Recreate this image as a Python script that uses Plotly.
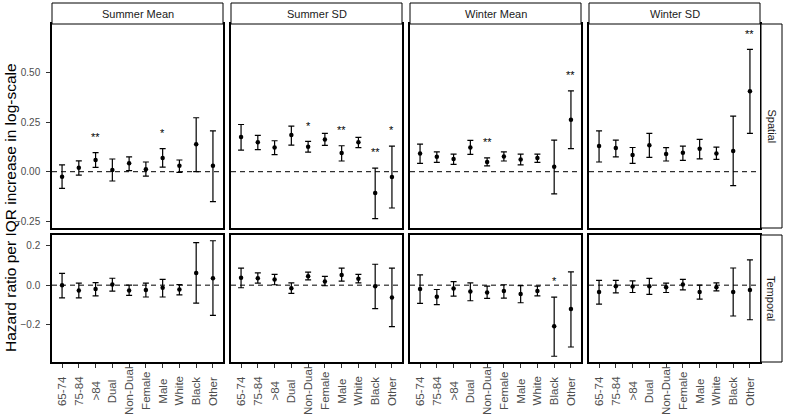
import plotly.graph_objects as go
from plotly.subplots import make_subplots

categories = ["65-74", "75-84", ">84", "Dual", "Non-Dual", "Female", "Male", "White", "Black", "Other"]
panel_titles = ["Summer Mean", "Summer SD", "Winter Mean", "Winter SD"]
row_titles = ["Spatial", "Temporal"]

# ---- Spatial row ----
sm_sp_est = [-0.025, 0.020, 0.059, 0.008, 0.042, 0.012, 0.069, 0.030, 0.139, 0.030]
sm_sp_lo = [-0.084, -0.017, 0.022, -0.047, 0.005, -0.022, 0.023, -0.003, 0.000, -0.151]
sm_sp_hi = [0.034, 0.055, 0.096, 0.064, 0.075, 0.049, 0.116, 0.059, 0.272, 0.206]
sm_sp_sig = ["", "", "**", "", "", "", "*", "", "", ""]

ss_sp_est = [0.175, 0.148, 0.122, 0.185, 0.126, 0.163, 0.094, 0.148, -0.107, -0.027]
ss_sp_lo = [0.109, 0.111, 0.086, 0.134, 0.099, 0.133, 0.054, 0.121, -0.237, -0.183]
ss_sp_hi = [0.238, 0.183, 0.156, 0.230, 0.153, 0.193, 0.131, 0.173, 0.018, 0.129]
ss_sp_sig = ["", "", "", "", "*", "", "**", "", "**", "*"]

wm_sp_est = [0.092, 0.075, 0.064, 0.122, 0.049, 0.077, 0.062, 0.069, 0.025, 0.262]
wm_sp_lo = [0.042, 0.047, 0.037, 0.087, 0.029, 0.054, 0.034, 0.047, -0.112, 0.116]
wm_sp_hi = [0.139, 0.100, 0.089, 0.158, 0.070, 0.100, 0.089, 0.089, 0.159, 0.408]
wm_sp_sig = ["", "", "", "", "**", "", "", "", "", "**"]

ws_sp_est = [0.129, 0.119, 0.084, 0.134, 0.089, 0.096, 0.116, 0.092, 0.104, 0.406]
ws_sp_lo = [0.049, 0.075, 0.042, 0.072, 0.054, 0.057, 0.065, 0.062, -0.070, 0.193]
ws_sp_hi = [0.206, 0.159, 0.122, 0.193, 0.121, 0.129, 0.163, 0.124, 0.280, 0.617]
ws_sp_sig = ["", "", "", "", "", "", "", "", "", "**"]

# ---- Temporal row ----
sm_tp_est = [0.000, -0.027, -0.020, 0.003, -0.027, -0.024, -0.013, -0.022, 0.062, 0.035]
sm_tp_lo = [-0.064, -0.064, -0.054, -0.030, -0.052, -0.060, -0.060, -0.049, -0.091, -0.153]
sm_tp_hi = [0.060, 0.010, 0.013, 0.035, 0.000, 0.010, 0.029, 0.003, 0.215, 0.225]
sm_tp_sig = ["", "", "", "", "", "", "", "", "", ""]

ss_tp_est = [0.037, 0.035, 0.029, -0.015, 0.045, 0.018, 0.052, 0.032, -0.005, -0.062]
ss_tp_lo = [-0.013, 0.010, 0.002, -0.042, 0.027, -0.003, 0.020, 0.012, -0.119, -0.210]
ss_tp_hi = [0.086, 0.062, 0.055, 0.012, 0.066, 0.045, 0.086, 0.055, 0.106, 0.086]
ss_tp_sig = ["", "", "", "", "", "", "", "", "", ""]

wm_tp_est = [-0.020, -0.059, -0.017, -0.032, -0.037, -0.029, -0.045, -0.029, -0.208, -0.121]
wm_tp_lo = [-0.092, -0.099, -0.055, -0.079, -0.067, -0.066, -0.089, -0.054, -0.360, -0.313]
wm_tp_hi = [0.052, -0.022, 0.018, 0.012, -0.005, 0.002, -0.002, -0.005, -0.061, 0.067]
wm_tp_sig = ["", "", "", "", "", "", "", "", "*", ""]

ws_tp_est = [-0.035, -0.005, -0.007, -0.005, -0.010, 0.003, -0.034, -0.010, -0.034, -0.025]
ws_tp_lo = [-0.096, -0.039, -0.037, -0.047, -0.037, -0.024, -0.071, -0.029, -0.156, -0.175]
ws_tp_hi = [0.024, 0.024, 0.022, 0.034, 0.010, 0.029, 0.000, 0.012, 0.087, 0.128]
ws_tp_sig = ["", "", "", "", "", "", "", "", "", ""]

spatial_ticks = [-0.25, 0.0, 0.25, 0.5]
temporal_ticks = [-0.2, 0.0, 0.2]
y_title = "Hazard ratio per IQR increase in log-scale"

grid = [
    [(sm_sp_est, sm_sp_lo, sm_sp_hi, sm_sp_sig), (ss_sp_est, ss_sp_lo, ss_sp_hi, ss_sp_sig),
     (wm_sp_est, wm_sp_lo, wm_sp_hi, wm_sp_sig), (ws_sp_est, ws_sp_lo, ws_sp_hi, ws_sp_sig)],
    [(sm_tp_est, sm_tp_lo, sm_tp_hi, sm_tp_sig), (ss_tp_est, ss_tp_lo, ss_tp_hi, ss_tp_sig),
     (wm_tp_est, wm_tp_lo, wm_tp_hi, wm_tp_sig), (ws_tp_est, ws_tp_lo, ws_tp_hi, ws_tp_sig)],
]

W, H = 786, 416
FONT = "Liberation Sans, Arial, sans-serif"
col_px = [(52, 223), (231, 402), (410, 581), (589, 760)]
row_px = [(24, 228), (235, 362)]
row_ranges = [[-0.284, 0.745], [-0.389, 0.254]]
star_offset = 0.08

fig = make_subplots(rows=2, cols=4)

for r in range(2):
    for c in range(4):
        est, lo, hi, sig = grid[r][c]
        up = [h - e for h, e in zip(hi, est)]
        dn = [e - l for e, l in zip(est, lo)]
        fig.add_trace(go.Scatter(
            x=categories, y=est, mode="markers",
            marker=dict(color="black", size=4.5),
            error_y=dict(type="data", symmetric=False, array=up, arrayminus=dn,
                         color="black", thickness=1.2, width=3),
            showlegend=False, hoverinfo="skip"), row=r + 1, col=c + 1)
        idx = r * 4 + c + 1
        xa = "xaxis" if idx == 1 else f"xaxis{idx}"
        ya = "yaxis" if idx == 1 else f"yaxis{idx}"
        xref = "x" if idx == 1 else f"x{idx}"
        yref = "y" if idx == 1 else f"y{idx}"
        # significance stars
        for cat, h, s in zip(categories, hi, sig):
            if s:
                fig.add_annotation(x=cat, y=h + star_offset, xref=xref, yref=yref,
                                   text=s, showarrow=False, xanchor="center", yanchor="middle",
                                   font=dict(family=FONT, size=11, color="black"))
        x0, x1 = col_px[c]
        y0, y1 = row_px[r]
        fig.layout[xa].update(
            domain=[x0 / W, x1 / W], range=[-0.6, 9.6], type="category",
            categoryorder="array", categoryarray=categories,
            showgrid=False, zeroline=False, showticklabels=False,
            ticks="outside" if r == 1 else "", ticklen=4, tickwidth=1, tickcolor="#333333",
            showline=True, linecolor="black", linewidth=1.5, mirror=True)
        ticks = spatial_ticks if r == 0 else temporal_ticks
        fig.layout[ya].update(
            domain=[1 - y1 / H, 1 - y0 / H], range=row_ranges[r],
            showgrid=False, zeroline=False,
            tickvals=ticks, tickformat=".2f" if r == 0 else ".1f",
            showticklabels=(c == 0), ticks="outside" if c == 0 else "",
            ticklen=4, tickwidth=1, tickcolor="#333333", ticklabelstandoff=4,
            tickfont=dict(family=FONT, size=10, color="#4d4d4d"),
            showline=True, linecolor="black", linewidth=1.5, mirror=True)
        # dashed zero reference line
        fig.add_shape(type="line", xref=f"{xref} domain", yref=yref,
                      x0=0, x1=1, y0=0, y1=0, layer="below",
                      line=dict(color="black", width=1, dash="5px,4px"))
        # x tick labels (centred, rotated) on bottom row
        if r == 1:
            for cat in categories:
                fig.add_annotation(x=cat, xref=xref, y=1 - 391 / H, yref="paper",
                                   text=cat, textangle=-90, showarrow=False,
                                   xanchor="center", yanchor="middle",
                                   font=dict(family=FONT, size=11.5, color="#4d4d4d"))

# column strips
for c, title in enumerate(panel_titles):
    x0, x1 = col_px[c]
    fig.add_shape(type="rect", xref="paper", yref="paper",
                  x0=x0 / W, x1=x1 / W, y0=1 - 24 / H, y1=1 - 3 / H,
                  fillcolor="white", line=dict(color="black", width=1))
    fig.add_annotation(x=(x0 + x1) / 2 / W, y=1 - 13.5 / H, xref="paper", yref="paper",
                       text=title, showarrow=False, xanchor="center", yanchor="middle",
                       font=dict(family=FONT, size=11, color="#1a1a1a"))

# row strips
for r, title in enumerate(row_titles):
    y0, y1 = row_px[r]
    fig.add_shape(type="rect", xref="paper", yref="paper",
                  x0=761 / W, x1=782 / W, y0=1 - y1 / H, y1=1 - y0 / H,
                  fillcolor="white", line=dict(color="black", width=1))
    fig.add_annotation(x=771.5 / W, y=1 - (y0 + y1) / 2 / H, xref="paper", yref="paper",
                       text=title, textangle=90, showarrow=False,
                       xanchor="center", yanchor="middle",
                       font=dict(family=FONT, size=11, color="#1a1a1a"))

fig.add_annotation(x=10 / W, y=1 - 208 / H, xref="paper", yref="paper",
                   text=y_title, textangle=-90, showarrow=False,
                   xanchor="center", yanchor="middle",
                   font=dict(family=FONT, size=15.5, color="black"))

fig.update_layout(width=W, height=H, margin=dict(l=0, r=0, t=0, b=0),
                  paper_bgcolor="white", plot_bgcolor="white",
                  font=dict(family=FONT), showlegend=False)

fig.write_html("out.html", config={"displayModeBar": False},
               post_script="document.body.style.margin='0';document.body.style.padding='0';document.body.style.overflow='hidden';")
